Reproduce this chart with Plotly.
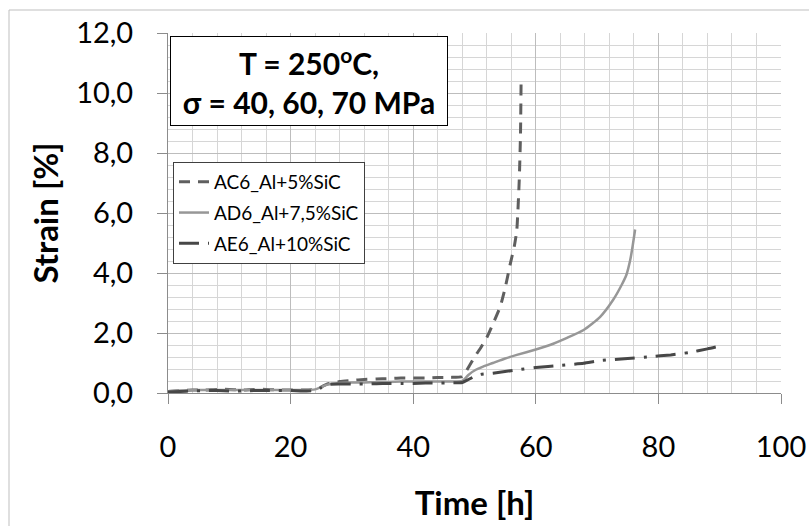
import plotly.graph_objects as go

# ---- data ----
ac6_t = [0, 2, 4, 6, 8, 10, 12, 14, 16, 18, 20, 22, 24, 25, 26, 28, 30, 32, 34, 36, 38, 40, 42, 44, 46, 48,
         49, 50, 51, 52, 53, 54.2, 55, 55.8, 56.5, 56.9, 57.3, 57.5, 57.6]
ac6_s = [0.05, 0.08, 0.1, 0.1, 0.12, 0.12, 0.1, 0.12, 0.12, 0.1, 0.1, 0.1, 0.12, 0.2, 0.3, 0.38, 0.42, 0.45, 0.47,
         0.48, 0.5, 0.5, 0.5, 0.52, 0.52, 0.55,
         0.85, 1.2, 1.5, 1.85, 2.3, 2.88, 3.5, 4.27, 4.9, 5.43, 7.1, 8.6, 10.4]

ad6_t = [0, 2, 4, 6, 8, 10, 12, 14, 16, 18, 20, 22, 24, 25, 26, 28, 30, 32, 34, 36, 38, 40, 42, 44, 46, 48,
         49, 50, 51.4, 53, 55, 56.9, 60, 62.3, 65, 67.8, 70.5, 72.6, 74, 74.8, 75.4, 75.8, 76.2]
ad6_s = [0.06, 0.08, 0.1, 0.1, 0.1, 0.1, 0.1, 0.1, 0.1, 0.1, 0.1, 0.1, 0.12, 0.2, 0.28, 0.33, 0.35, 0.35, 0.36,
         0.37, 0.38, 0.38, 0.38, 0.38, 0.38, 0.4,
         0.6, 0.75, 0.88, 1.0, 1.15, 1.27, 1.45, 1.6, 1.83, 2.1, 2.54, 3.1, 3.6, 3.95, 4.43, 4.9, 5.45]

ae6_t = [0, 2, 4, 6, 8, 10, 12, 14, 16, 18, 20, 22, 24, 25, 26, 28, 30, 32, 34, 36, 38, 40, 42, 44, 46, 48,
         49, 50, 51, 53, 56.9, 60, 64, 67.8, 70.5, 75, 78.6, 82, 85, 88, 90.8]
ae6_s = [0.03, 0.05, 0.07, 0.08, 0.08, 0.07, 0.07, 0.08, 0.08, 0.08, 0.08, 0.07, 0.08, 0.18, 0.28, 0.3, 0.3,
         0.3, 0.31, 0.32, 0.32, 0.32, 0.33, 0.33, 0.34, 0.35,
         0.45, 0.55, 0.62, 0.66, 0.77, 0.85, 0.92, 0.99, 1.08, 1.15, 1.21, 1.27, 1.35, 1.47, 1.6]

names = ["AC6_Al+5%SiC", "AD6_Al+7,5%SiC", "AE6_Al+10%SiC"]
x_ticks = [0, 20, 40, 60, 80, 100]
y_ticks = [0, 2, 4, 6, 8, 10, 12]

FONT = "Lato"

fig = go.Figure()
fig.add_trace(go.Scatter(x=ac6_t, y=ac6_s, mode="lines", name=names[0], legendgroup="a",
                         line=dict(color="#5f5f5f", width=3, dash="11px,8px", shape="spline", smoothing=0.5)))
fig.add_trace(go.Scatter(x=ad6_t, y=ad6_s, mode="lines", name=names[1], legendgroup="b",
                         line=dict(color="#979797", width=2.5, shape="spline", smoothing=0.6)))
fig.add_trace(go.Scatter(x=ae6_t, y=ae6_s, mode="lines", name=names[2], legendgroup="c",
                         line=dict(color="#474747", width=3, dash="20px,9px,3px,9px", shape="spline",
                                   smoothing=0.5)))

L, R, T, B = 168, 781, 33, 393
W, H = 809, 526

def px(xp):
    return (xp - L) / (R - L)

def py(yp):
    return (B - yp) / (B - T)

fig.update_layout(
    width=W, height=H,
    margin=dict(l=L, r=W - R, t=T, b=H - B, pad=0),
    paper_bgcolor="white", plot_bgcolor="white",
    separators=", ",
    font=dict(family=FONT, color="#000000"),
    showlegend=True,
    legend=dict(x=px(173), y=py(162), xanchor="left", yanchor="top",
                bgcolor="white", bordercolor="#404040", borderwidth=1,
                font=dict(family=FONT, size=19, color="#000000"),
                traceorder="grouped", tracegroupgap=3, itemwidth=30),
    xaxis=dict(range=[0, 100], tickvals=x_ticks, showgrid=True, gridcolor="#bdbdbd", gridwidth=1,
               minor=dict(dtick=4, showgrid=True, gridcolor="#d6d6d6", gridwidth=1),
               showline=True, linecolor="#8c8c8c", linewidth=1,
               ticks="outside", ticklen=10, tickcolor="#8c8c8c",
               tickfont=dict(family=FONT, size=29, color="#000000"), ticklabelstandoff=18,
               zeroline=False,
               title=dict(text="<b>Time [h]</b>", font=dict(family=FONT, size=33, color="#000000"),
                          standoff=30),
               automargin=False),
    yaxis=dict(range=[0, 12], tickvals=y_ticks, tickformat=".1f", showgrid=True, gridcolor="#bdbdbd",
               gridwidth=1,
               minor=dict(dtick=0.4, showgrid=True, gridcolor="#d6d6d6", gridwidth=1),
               showline=True, linecolor="#8c8c8c", linewidth=1,
               ticks="outside", ticklen=10, tickcolor="#8c8c8c",
               tickfont=dict(family=FONT, size=29, color="#000000"), ticklabelstandoff=18,
               zeroline=False,
               title=dict(text="<b>Strain [%]</b>", font=dict(family=FONT, size=33, color="#000000"),
                          standoff=7),
               automargin=False),
    annotations=[dict(
        xref="paper", yref="paper", x=px(309), y=py(80.5), xanchor="center", yanchor="middle",
        text="<b>T = 250<sup>o</sup>C,</b><br><b>σ = 40, 60, 70 MPa</b>",
        showarrow=False, align="center",
        font=dict(family=FONT, size=30, color="#000000"),
        bgcolor="white", bordercolor="#000000", borderwidth=1, borderpad=2,
        width=272, height=84)],
    shapes=[
        dict(type="line", xref="paper", yref="paper", x0=px(9), x1=px(809), y0=py(10), y1=py(10),
             line=dict(color="#bfbfbf", width=1)),
        dict(type="line", xref="paper", yref="paper", x0=px(9), x1=px(9), y0=py(10), y1=py(526),
             line=dict(color="#bfbfbf", width=1)),
    ],
)

fig.write_html("out.html", config={"displayModeBar": False},
               post_script="document.body.style.margin='0';document.body.style.overflow='hidden';")
